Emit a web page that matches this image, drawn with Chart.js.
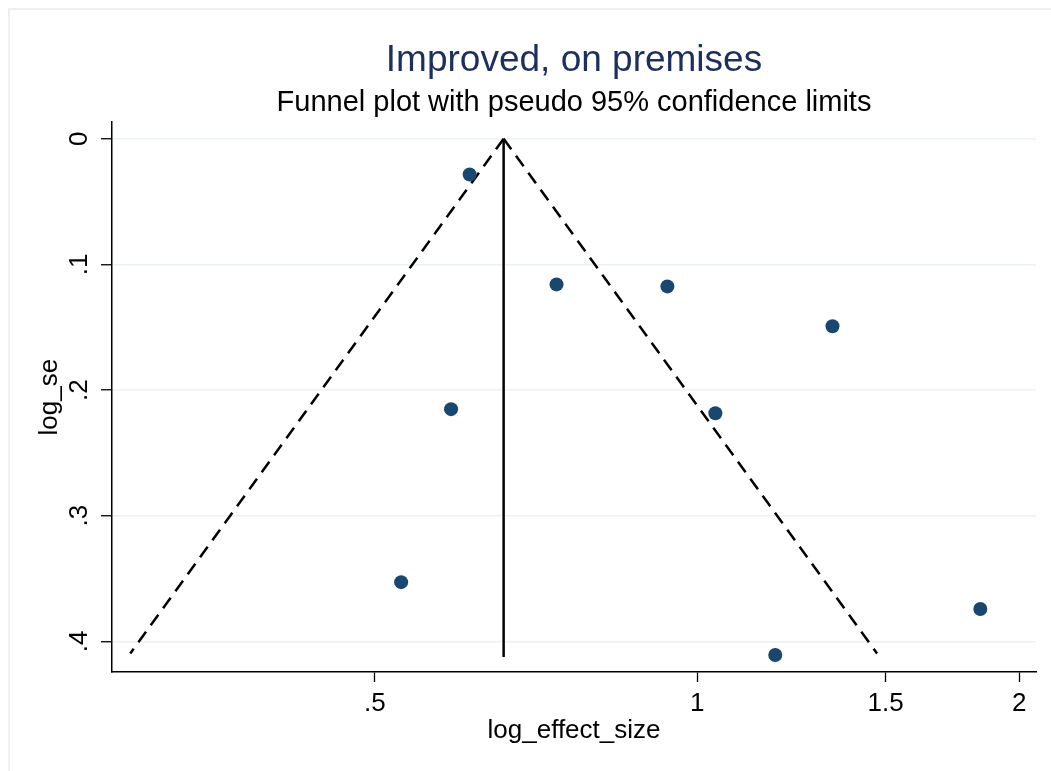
<!DOCTYPE html>
<html>
<head>
<meta charset="utf-8">
<script src="https://cdn.jsdelivr.net/npm/chart.js@4.4.1/dist/chart.umd.min.js"></script>
<style>
  body { margin: 0; background: #ffffff; }
  #wrap { position: relative; width: 1051px; height: 771px; overflow: hidden; }
  #frame { position: absolute; left: 8px; top: 8px; width: 1100px; height: 800px;
           border-top: 2px solid #eaf0f3; border-left: 2px solid #eaf0f3; }
  #chart-box { position: absolute; left: 0; top: 0; }
</style>
</head>
<body>
<div id="wrap">
  <div id="frame"></div>
  <canvas id="chart-box" width="1051" height="771"></canvas>
</div>
<script>
// study estimates
const effectSizes = [0.613, 0.739, 0.938, 1.338, 0.589, 1.040, 0.529, 1.839, 1.183];
const stdErrors = [0.0284, 0.1159, 0.1175, 0.1492, 0.2152, 0.2184, 0.3529, 0.3743, 0.4109];

// pooled estimate line and pseudo 95% limits
const pooledLineX = [0.6595, 0.6595];
const pooledLineY = [0, 0.4125];
const limitsLeftX = [0.6595, 0.2954];
const limitsLeftY = [0, 0.4096];
const limitsRightX = [0.6595, 1.4727];
const limitsRightY = [0, 0.4096];

// axes
const xTickValues = [0.5, 1, 1.5, 2];
const yTickValues = [0, 0.1, 0.2, 0.3, 0.4];
const xRange = [0.284, 2.073];
const yRange = [-0.0132, 0.4244];

const FONT = "'Liberation Sans', Arial, sans-serif";

function toPoints(xs, ys) {
  return xs.map((x, i) => ({ x: x, y: ys[i] }));
}

function fmt(v) {
  if (v === 0) return "0";
  return String(v).replace(/^0\./, ".");
}

const yTickLabels = {
  id: "yTickLabels",
  afterDraw(chart) {
    const ctx = chart.ctx;
    const yScale = chart.scales.y;
    ctx.save();
    ctx.fillStyle = "#000000";
    ctx.font = "26px " + FONT;
    ctx.textAlign = "center";
    ctx.textBaseline = "middle";
    yTickValues.forEach(v => {
      const py = yScale.getPixelForValue(v);
      ctx.save();
      ctx.translate(80, py);
      ctx.rotate(-Math.PI / 2);
      ctx.fillText(fmt(v), 0, 0);
      ctx.restore();
    });
    ctx.restore();
  }
};

const ctx = document.getElementById("chart-box").getContext("2d");
const chart = new Chart(ctx, {
  type: "scatter",
  data: {
    datasets: [
      {
        label: "studies",
        data: toPoints(effectSizes, stdErrors),
        backgroundColor: "#1a476f",
        borderColor: "#1a476f",
        pointRadius: 7,
        pointBorderWidth: 0,
        showLine: false,
      },
      {
        label: "pooled",
        data: toPoints(pooledLineX, pooledLineY),
        showLine: true,
        borderColor: "#000000",
        borderWidth: 2.5,
        pointRadius: 0,
      },
      {
        label: "lower limit",
        data: toPoints(limitsLeftX, limitsLeftY),
        showLine: true,
        borderColor: "#000000",
        borderWidth: 2.5,
        borderDash: [13, 8],
        pointRadius: 0,
      },
      {
        label: "upper limit",
        data: toPoints(limitsRightX, limitsRightY),
        showLine: true,
        borderColor: "#000000",
        borderWidth: 2.5,
        borderDash: [13, 8],
        pointRadius: 0,
      },
    ],
  },
  options: {
    responsive: false,
    animation: false,
    devicePixelRatio: 1,
    layout: {
      padding: { left: 0, right: 15, top: 0, bottom: 0 },
    },
    plugins: {
      legend: { display: false },
      tooltip: { enabled: false },
      title: {
        display: true,
        fullSize: false,
        text: "Improved, on premises",
        color: "#1c2f5e",
        font: { family: FONT, size: 37, weight: "normal" },
        padding: { top: 39, bottom: 0 },
      },
      subtitle: {
        display: true,
        fullSize: false,
        text: "Funnel plot with pseudo 95% confidence limits",
        color: "#000000",
        font: { family: FONT, size: 29, weight: "normal" },
        padding: { top: 2, bottom: 2 },
      },
    },
    scales: {
      x: {
        type: "logarithmic",
        min: xRange[0],
        max: xRange[1],
        afterBuildTicks: scale => {
          scale.ticks = xTickValues.map(v => ({ value: v }));
        },
        afterFit: scale => {
          scale.height = 99;
        },
        ticks: {
          autoSkip: false,
          maxRotation: 0,
          color: "#000000",
          font: { family: FONT, size: 26 },
          padding: 6,
          callback: value => fmt(value),
        },
        grid: {
          drawOnChartArea: false,
          drawTicks: true,
          tickLength: 10,
          tickColor: "#000000",
          tickWidth: 1.3,
        },
        border: { display: true, color: "#000000", width: 1.5 },
        title: {
          display: true,
          text: "log_effect_size",
          color: "#000000",
          font: { family: FONT, size: 26 },
          padding: { top: 0, bottom: 25 },
        },
      },
      y: {
        type: "linear",
        reverse: true,
        min: yRange[0],
        max: yRange[1],
        afterBuildTicks: scale => {
          scale.ticks = yTickValues.map(v => ({ value: v }));
        },
        afterFit: scale => {
          scale.width = 112;
        },
        ticks: {
          display: false,
        },
        grid: {
          color: "#eaf2f3",
          lineWidth: 1.5,
          drawTicks: true,
          tickLength: 11,
          tickColor: "#000000",
          tickWidth: 1.3,
        },
        border: { display: true, color: "#000000", width: 1.5 },
        title: {
          display: true,
          text: "log_se",
          color: "#000000",
          font: { family: FONT, size: 26 },
          padding: { top: 34, bottom: 0 },
        },
      },
    },
  },
  plugins: [yTickLabels],
});
</script>
</body>
</html>
